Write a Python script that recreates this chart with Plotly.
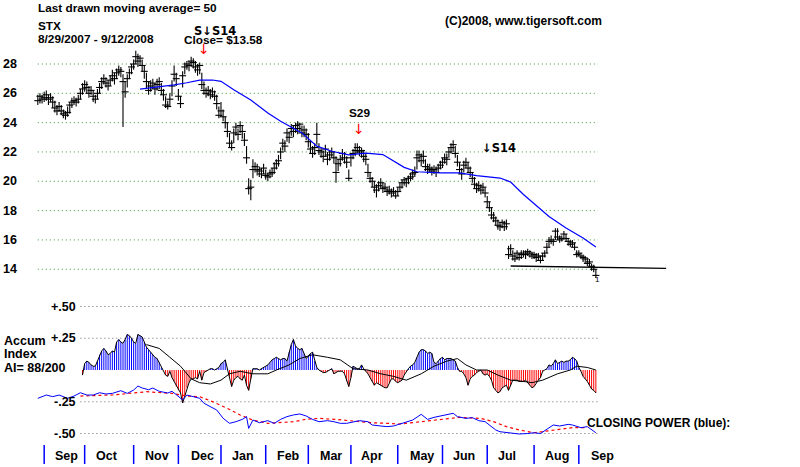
import plotly.graph_objects as go

# ---------------- data ----------------
close = [25.5, 25.8, 25.6, 25.7, 25.9, 25.6, 25.7, 25.4, 25.0, 24.8,
         25.1, 24.8, 24.6, 24.5, 24.7, 25.2, 25.4, 25.5, 25.4, 25.6,
         26.0, 26.3, 26.6, 26.4, 26.0, 26.2, 25.8, 25.6, 26.0, 26.4,
         26.8, 27.0, 26.7, 26.5, 26.9, 27.2, 27.0, 27.4, 27.6, 27.5,
         26.8, 26.1, 27.0, 27.4, 27.8, 28.0, 28.5, 28.2, 28.4, 27.9,
         27.5, 26.8, 26.2, 26.5, 26.7, 26.3, 26.6, 26.8, 26.2, 25.9,
         25.2, 25.1, 25.6, 26.5, 27.3, 27.0, 25.8, 25.3, 27.2, 27.8,
         28.0, 27.9, 28.2, 28.1, 27.8, 27.6, 27.9, 26.6, 26.2, 26.0,
         26.2, 25.9, 26.1, 25.8, 25.3, 24.5, 24.8, 24.4, 24.0, 23.4,
         22.6, 22.3, 23.3, 23.7, 23.2, 23.8, 23.4, 22.8, 21.6, 19.5,
         19.6, 20.8, 21.0, 20.8, 20.7, 20.5, 20.9, 20.4, 20.3, 20.5,
         20.6, 20.9, 21.2, 21.4, 22.0, 22.6, 22.4, 23.3, 23.0, 23.6,
         23.4, 23.8, 23.6, 23.9, 23.3, 23.5, 23.2, 22.7, 22.2, 21.9,
         22.3, 23.2, 22.1, 22.0, 21.7, 22.2, 21.5, 21.8, 22.0, 21.6,
         20.6, 21.2, 21.5, 21.9, 21.6, 21.3, 20.2, 21.6, 21.9, 22.1,
         22.3, 22.0, 22.1, 21.7, 21.5, 20.6, 20.2, 20.0, 19.6, 19.4,
         19.7, 19.9, 19.5, 19.6, 19.3, 19.4, 19.2, 19.3, 19.0, 19.3,
         19.6, 19.9, 20.1, 19.9, 20.2, 20.3, 20.5, 20.6, 21.6, 21.8,
         21.4, 21.7, 21.0, 20.8, 20.9, 20.7, 20.8, 20.6, 20.9, 21.1,
         21.3, 21.6, 21.5, 22.0, 22.3, 22.5, 21.9, 21.3, 20.8, 20.5,
         21.1, 21.3, 20.9, 20.6, 20.2, 19.8, 19.5, 19.7, 19.4, 19.6,
         19.2, 18.6, 18.2, 17.7, 17.5, 17.3, 17.0, 16.9, 17.2, 16.9,
         17.1, 15.0, 15.4, 14.9, 14.7, 15.1, 14.8, 15.0, 15.1, 15.0,
         15.2, 15.1, 14.9, 15.0, 14.8, 14.9, 14.6, 14.9, 15.1, 15.5,
         15.9, 16.0, 15.9, 16.6, 16.2, 16.0, 16.1, 16.4, 16.1, 15.9,
         15.7, 15.8, 15.5, 15.0, 15.1, 14.9, 14.8, 14.7, 14.4, 14.5,
         14.2, 14.0, 13.58]

high = [25.9, 26.0, 25.9, 26.1, 26.2, 25.9, 26.0, 25.8, 25.5, 25.2,
        25.4, 25.2, 24.9, 24.8, 25.1, 25.4, 25.7, 25.8, 25.7, 25.9,
        26.3, 26.7, 26.9, 26.8, 26.5, 26.5, 26.2, 25.9, 26.3, 26.7,
        27.1, 27.3, 27.1, 26.9, 27.2, 27.6, 27.4, 27.7, 27.9, 27.8,
        27.3, 26.8, 27.3, 27.7, 28.0, 28.3, 28.9, 28.7, 28.6, 28.3,
        27.9, 27.4, 26.8, 26.9, 27.0, 26.7, 27.0, 27.1, 26.7, 26.3,
        25.8, 25.5, 26.0, 26.9, 27.9, 27.4, 26.3, 25.8, 27.5, 28.1,
        28.2, 28.2, 28.5, 28.4, 28.2, 28.0, 28.1, 27.4, 26.8, 26.4,
        26.5, 26.3, 26.4, 26.2, 25.9, 25.1, 25.4, 24.9, 24.4, 24.0,
        23.3, 22.8, 23.6, 24.0, 23.6, 24.1, 23.8, 23.3, 22.4, 20.2,
        20.1, 21.5, 21.3, 21.2, 21.0, 20.9, 21.2, 20.8, 20.6, 20.8,
        20.9, 21.3, 21.5, 21.8, 22.3, 22.9, 22.8, 23.6, 23.4, 23.9,
        23.8, 24.0, 24.1, 24.0, 23.8, 23.8, 23.6, 23.3, 22.8, 22.4,
        22.6, 24.0, 22.6, 22.3, 22.1, 22.5, 22.0, 22.1, 22.3, 22.0,
        21.7, 21.5, 21.8, 22.2, 22.0, 21.7, 20.8, 21.9, 22.2, 22.6,
        22.6, 22.4, 22.3, 22.1, 21.9, 21.2, 20.6, 20.3, 20.0, 19.8,
        20.0, 20.2, 19.9, 19.9, 19.6, 19.7, 19.5, 19.6, 19.4, 19.6,
        19.9, 20.1, 20.3, 20.2, 20.4, 20.6, 20.8, 21.0, 22.1, 22.1,
        21.9, 22.1, 21.5, 21.2, 21.2, 21.0, 21.1, 21.0, 21.2, 21.4,
        21.6, 21.9, 21.9, 22.3, 22.6, 22.8, 22.4, 21.8, 21.3, 20.9,
        21.4, 21.6, 21.3, 21.0, 20.6, 20.3, 19.9, 20.0, 19.8, 19.9,
        19.6, 19.0, 18.6, 18.2, 17.9, 17.6, 17.4, 17.2, 17.4, 17.3,
        17.4, 15.6, 15.7, 15.3, 15.1, 15.3, 15.1, 15.3, 15.3, 15.3,
        15.4, 15.3, 15.2, 15.2, 15.1, 15.1, 14.9, 15.1, 15.3, 15.8,
        16.2, 16.3, 16.1, 16.8, 16.8, 16.3, 16.3, 16.6, 16.4, 16.1,
        16.0, 16.0, 15.8, 15.3, 15.3, 15.1, 15.0, 14.9, 14.8, 14.7,
        14.4, 14.3, 14.0]

low = [25.2, 25.3, 25.3, 25.4, 25.5, 25.2, 25.4, 25.0, 24.7, 24.5,
       24.8, 24.5, 24.3, 24.2, 24.4, 24.6, 25.0, 25.2, 25.1, 25.3,
       25.6, 25.9, 26.1, 26.0, 25.7, 25.9, 25.4, 25.3, 25.6, 26.0,
       26.3, 26.6, 26.4, 26.2, 26.5, 26.8, 26.6, 27.0, 27.2, 27.1,
       23.7, 25.7, 26.4, 27.0, 27.3, 27.6, 28.0, 27.8, 27.9, 27.5,
       27.0, 26.3, 25.9, 26.1, 26.3, 25.9, 26.2, 26.3, 25.9, 25.5,
       25.0, 24.9, 25.1, 25.8, 26.8, 26.5, 25.5, 25.0, 26.4, 27.3,
       27.6, 27.5, 27.8, 27.7, 27.4, 27.2, 27.3, 26.3, 25.9, 25.7,
       25.8, 25.6, 25.7, 25.5, 24.9, 24.3, 24.4, 24.1, 23.6, 23.0,
       22.3, 22.1, 22.6, 23.1, 22.8, 23.3, 22.9, 22.4, 21.2, 19.1,
       18.7, 20.2, 20.6, 20.4, 20.3, 20.2, 20.5, 20.1, 20.0, 20.2,
       20.3, 20.5, 20.8, 21.0, 21.5, 22.1, 22.0, 22.7, 22.6, 23.1,
       23.0, 23.3, 23.2, 23.4, 23.0, 23.0, 22.8, 22.3, 21.9, 21.6,
       21.8, 22.5, 21.8, 21.6, 21.3, 21.7, 21.1, 21.4, 21.6, 21.2,
       19.9, 20.7, 21.0, 21.4, 21.2, 20.9, 20.0, 21.0, 21.5, 21.7,
       21.9, 21.7, 21.6, 21.3, 21.1, 20.3, 19.9, 19.6, 19.2, 18.9,
       19.3, 19.5, 19.2, 19.3, 19.0, 19.1, 18.9, 19.0, 18.8, 19.0,
       19.3, 19.5, 19.7, 19.6, 19.8, 20.0, 20.1, 20.3, 20.8, 21.3,
       21.0, 21.2, 20.7, 20.5, 20.6, 20.4, 20.5, 20.3, 20.6, 20.8,
       20.9, 21.2, 21.1, 21.6, 21.9, 22.0, 21.6, 21.0, 20.5, 20.1,
       20.6, 20.9, 20.6, 20.3, 19.9, 19.5, 19.2, 19.3, 19.1, 19.2,
       18.9, 18.2, 17.9, 17.4, 17.2, 17.0, 16.7, 16.6, 16.8, 16.6,
       16.7, 14.7, 15.0, 14.6, 14.5, 14.7, 14.6, 14.7, 14.8, 14.7,
       14.9, 14.8, 14.7, 14.7, 14.5, 14.6, 14.4, 14.6, 14.8, 15.1,
       15.5, 15.7, 15.6, 16.0, 16.0, 15.8, 15.9, 16.0, 15.9, 15.6,
       15.5, 15.5, 15.3, 14.8, 14.9, 14.7, 14.5, 14.4, 14.2, 14.2,
       13.9, 13.8, 13.4]

# 50-day moving average (bar index, value)
ma50_idx = [48, 55, 64, 70, 76, 82, 86, 92, 100, 104, 108, 114, 120, 124, 131,
            138, 146, 154, 162, 170, 172, 178, 189, 198, 206, 217, 222, 228,
            232, 240, 248, 256, 262]
ma50_val = [26.28, 26.40, 26.57, 26.72, 26.90, 26.91, 26.82, 26.25, 25.55, 25.1,
            24.66, 24.1, 23.6, 23.3, 22.4, 22.05, 21.8, 21.92, 21.82, 21.15,
            20.95, 20.65, 20.57, 20.57, 20.38, 20.22, 19.95, 19.1, 18.6, 17.6,
            16.82, 16.13, 15.52]

# support line (bar index, price)
support_idx = [222, 295]
support_val = [14.22, 14.06]

# Accumulation Index, one value per bar starting at bar 21
ai_start = 21
ai = [-0.04, 0.05, 0.07, 0.06, 0.04, 0.03, 0.03, 0.07, 0.12, 0.15,
      0.17, 0.15, 0.12, 0.13, 0.15, 0.14, 0.22, 0.24, 0.22, 0.21,
      0.24, 0.28, 0.27, 0.25, 0.22, 0.21, 0.28, 0.27, 0.26, 0.22,
      0.18, 0.16, 0.14, 0.12, 0.10, 0.09, 0.06, 0.02, 0.00, -0.04,
      -0.05, -0.01, -0.06, -0.09, -0.13, -0.16, -0.18, -0.26, -0.20, -0.14,
      -0.10, -0.07, -0.07, -0.06, -0.07, -0.01, -0.08, -0.02, -0.01, 0.00,
      0.01, 0.01, 0.00, 0.01, 0.02, 0.05, 0.06, 0.08, 0.01, -0.05,
      -0.13, -0.08, -0.06, -0.05, -0.07, -0.08, -0.04, -0.12, -0.16, -0.07,
      0.01, 0.01, 0.01, 0.00, 0.01, 0.02, 0.03, 0.04, 0.06, 0.08,
      0.09, 0.10, 0.09, 0.08, 0.09, 0.09, 0.07, 0.14, 0.20, 0.24,
      0.19, 0.17, 0.16, 0.17, 0.13, 0.09, 0.11, 0.13, 0.14, 0.07,
      0.02, 0.00, -0.01, -0.02, -0.02, -0.01, 0.00, 0.01, -0.03, -0.02,
      -0.01, -0.01, -0.01, -0.03, -0.09, -0.13, -0.06, 0.03, 0.02, 0.01,
      0.01, 0.04, 0.01, -0.01, -0.03, -0.06, -0.09, -0.12, -0.10, -0.11,
      -0.12, -0.13, -0.14, -0.14, -0.10, -0.07, -0.07, -0.09, -0.10, -0.09,
      -0.08, -0.04, -0.01, 0.01, 0.03, 0.04, 0.06, 0.10, 0.14, 0.16,
      0.16, 0.15, 0.13, 0.14, 0.13, 0.06, 0.05, 0.07, 0.09, 0.10,
      0.08, 0.09, 0.09, 0.09, 0.08, 0.07, 0.02, -0.01, -0.01, -0.03,
      -0.06, -0.12, -0.07, -0.05, -0.04, -0.02, -0.01, 0.00, -0.03, -0.04,
      -0.03, -0.05, -0.08, -0.14, -0.16, -0.18, -0.17, -0.14, -0.13, -0.12,
      -0.16, -0.12, -0.08, -0.08, -0.08, -0.09, -0.09, -0.09, -0.08, -0.10,
      -0.12, -0.14, -0.13, -0.10, -0.08, -0.06, -0.01, 0.00, 0.01, 0.04,
      0.03, 0.05, 0.08, 0.05, 0.06, 0.07, 0.06, 0.07, 0.07, 0.08,
      0.10, 0.09, 0.07, 0.02, -0.01, -0.05, -0.07, -0.09, -0.12, -0.15,
      -0.16, -0.18]

# AI moving average (bar index, value)
ai_ma_idx = [51, 57, 62, 67, 72, 76, 81, 86, 90, 95, 101, 108, 112, 118, 123, 129,
             136, 142, 148, 155, 161, 167, 173, 180, 186, 192, 197, 201, 206, 211,
             216, 222, 228, 232, 237, 244, 250, 253, 258, 262]
ai_ma_val = [0.20, 0.17, 0.10, 0.03, -0.07, -0.10, -0.11, -0.08, -0.03, -0.01,
             -0.03, -0.03, 0.00, 0.04, 0.09, 0.12, 0.10, 0.08, 0.01, 0.00,
             -0.03, -0.05, -0.08, -0.03, 0.03, 0.07, 0.09, 0.04, 0.00, 0.00,
             -0.04, -0.08, -0.09, -0.10, -0.08, -0.03, 0.00, 0.03, 0.02, 0.00]

# Closing Power (blue) and its moving average (red), same panel scale
cp_idx = [0, 4, 7, 10, 14, 17, 20, 23, 26, 29, 32, 35, 39, 42, 45, 47, 49, 52, 54,
          57, 61, 63, 65, 68, 70, 73, 76, 78, 81, 84, 87, 90, 93, 96, 98, 99, 101,
          104, 108, 111, 114, 117, 120, 123, 126, 129, 132, 136, 139, 142, 145,
          148, 151, 155, 157, 161, 164, 167, 170, 173, 176, 180, 183, 186, 189,
          192, 195, 197, 201, 204, 207, 210, 212, 215, 217, 220, 223, 226, 230,
          233, 236, 239, 242, 245, 249, 251, 255, 258, 260, 262]
cp_val = [-0.223, -0.197, -0.21, -0.197, -0.223, -0.205, -0.179, -0.197, -0.197,
          -0.179, -0.189, -0.184, -0.163, -0.184, -0.158, -0.126, -0.142, -0.155,
          -0.142, -0.168, -0.181, -0.168, -0.194, -0.236, -0.197, -0.21, -0.223,
          -0.262, -0.288, -0.315, -0.38, -0.42, -0.407, -0.389, -0.367, -0.46,
          -0.394, -0.415, -0.399, -0.42, -0.389, -0.367, -0.354, -0.346, -0.362,
          -0.389, -0.407, -0.399, -0.407, -0.42, -0.42, -0.407, -0.399, -0.407,
          -0.433, -0.441, -0.446, -0.441, -0.425, -0.407, -0.394, -0.349, -0.389,
          -0.373, -0.362, -0.354, -0.341, -0.367, -0.381, -0.375, -0.399, -0.407,
          -0.433, -0.472, -0.486, -0.491, -0.5, -0.504, -0.5, -0.494, -0.5,
          -0.468, -0.433, -0.441, -0.428, -0.433, -0.454, -0.446, -0.472, -0.494]
cpma_idx = [20, 35, 51, 63, 70, 76, 82, 89, 95, 101, 108, 114, 120, 126, 132, 139,
            145, 151, 157, 164, 170, 180, 189, 198, 208, 214, 220, 226, 233, 239,
            245, 251, 258]
cpma_val = [-0.205, -0.197, -0.171, -0.184, -0.205, -0.21, -0.249, -0.302, -0.354,
            -0.394, -0.42, -0.415, -0.407, -0.388, -0.381, -0.388, -0.399, -0.407,
            -0.415, -0.42, -0.425, -0.407, -0.388, -0.373, -0.381, -0.407, -0.446,
            -0.472, -0.494, -0.478, -0.467, -0.454, -0.454]

month_labels = ["Sep", "Oct", "Nov", "Dec", "Jan", "Feb", "Mar", "Apr", "May",
                "Jun", "Jul", "Aug", "Sep"]
month_label_idx = [13.7, 32.5, 56.0, 77.1, 96.3, 117.9, 137.6, 156.9, 180.4,
                   200.1, 220.3, 243.8, 264.9]
month_tick_idx = [3, 22, 45, 66, 86, 107, 127, 147, 169, 190, 211, 233, 254]

price_ticks = [28, 26, 24, 22, 20, 18, 16, 14]
ai_ticks = [0.5, 0.25, -0.25, -0.5]
ai_tick_text = ["+.50", "+.25", "-.25", "-.50"]

# ---------------- figure ----------------
W, H = 800, 467
FONT = "Liberation Sans, Arial, sans-serif"


def px(x):
    return x / W


def py(y):
    return 1 - y / H


n = len(close)
fig = go.Figure()

# AI histogram as thin vertical stripes
ai_x = list(range(ai_start, ai_start + len(ai)))
for sign, col in ((1, "#0000ff"), (-1, "#ff0000")):
    sx, sy = [], []
    for x, v in zip(ai_x, ai):
        if (v >= 0 and sign > 0) or (v < 0 and sign < 0):
            sx += [x, x, None]
            sy += [0, v, None]
    fig.add_trace(go.Scatter(x=sx, y=sy, yaxis="y2", mode="lines",
                             line=dict(color=col, width=1), hoverinfo="skip"))
fig.add_trace(go.Scatter(x=ai_x, y=ai, yaxis="y2", mode="lines",
                         line=dict(color="black", width=1), hoverinfo="skip"))
fig.add_trace(go.Scatter(x=ai_ma_idx, y=ai_ma_val, yaxis="y2", mode="lines",
                         line=dict(color="black", width=1), hoverinfo="skip"))

# closing power
fig.add_trace(go.Scatter(x=cpma_idx, y=cpma_val, yaxis="y2", mode="lines",
                         line=dict(color="#ff0000", width=1.2, dash="dot"),
                         hoverinfo="skip"))
fig.add_trace(go.Scatter(x=cp_idx, y=cp_val, yaxis="y2", mode="lines",
                         line=dict(color="#0000ff", width=1), hoverinfo="skip"))

# price bars (high-low) + close ticks
bx, by = [], []
for i in range(n):
    bx += [i, i, None]
    by += [low[i], high[i], None]
fig.add_trace(go.Scatter(x=bx, y=by, mode="lines",
                         line=dict(color="black", width=1.1), hoverinfo="skip"))
fig.add_trace(go.Scatter(x=list(range(n)), y=close, mode="markers",
                         marker=dict(symbol="line-ew", size=5,
                                     line=dict(color="black", width=1.1)),
                         hoverinfo="skip"))
# moving average
fig.add_trace(go.Scatter(x=ma50_idx, y=ma50_val, mode="lines",
                         line=dict(color="#0000ff", width=1.2), hoverinfo="skip"))
# support line
fig.add_trace(go.Scatter(x=support_idx, y=support_val, mode="lines",
                         line=dict(color="black", width=1.3), hoverinfo="skip"))

shapes = []
for p in price_ticks:
    shapes.append(dict(type="line", xref="x", yref="y", x0=0, x1=n, y0=p, y1=p,
                       line=dict(color="#3a9d3a", width=1, dash="1px,3px"), layer="below"))
for v in ai_ticks:
    shapes.append(dict(type="line", xref="x", yref="y2", x0=20, x1=n, y0=v, y1=v,
                       line=dict(color="#6f6078", width=1, dash="1px,3px"), layer="below"))
for t in month_tick_idx:
    shapes.append(dict(type="line", xref="x", yref="paper", x0=t, x1=t,
                       y0=py(445), y1=py(464),
                       line=dict(color="#0000ff", width=1.5)))

ann = []


def txt(x, y, s, size=12, color="black", xanchor="left", xref="paper", yref="paper",
        weight="bold", family=FONT):
    ann.append(dict(x=x, y=y, xref=xref, yref=yref, text=s, showarrow=False,
                    xanchor=xanchor, yanchor="middle",
                    font=dict(family=family, size=size, color=color, weight=weight)))


txt(px(36), py(8), "Last drawn moving average= 50", size=11.8)
txt(px(36), py(26), "STX", size=11.8)
txt(px(36), py(39), "8/29/2007 - 9/12/2008", size=11.8)
txt(px(182), py(40), "Close= $13.58", size=11.8)
txt(px(604), py(21), "(C)2008, www.tigersoft.com", size=12, xanchor="right")
txt(px(192), py(31), "S↓S14", size=11.5, family="DejaVu Sans, sans-serif")

# signals
txt(78, 29.05, "↓", size=14, color="#ff0000", xanchor="center", xref="x", yref="y",
    weight="normal", family="DejaVu Sans, sans-serif")
txt(150.8, 24.66, "S29", size=11.8, xanchor="center", xref="x", yref="y")
txt(150.8, 23.57, "↓", size=14, color="#ff0000", xanchor="center", xref="x", yref="y",
    weight="normal", family="DejaVu Sans, sans-serif")
txt(207.6, 22.27, "↓S14", size=11.5, xanchor="left", xref="x", yref="y",
    family="DejaVu Sans, sans-serif")
txt(262.6, 13.3, "1", size=8, xanchor="center", xref="x", yref="y", weight="normal")

for p in price_ticks:
    txt(px(19), p, str(p), size=12.5, xanchor="right", yref="y")
for v, s in zip(ai_ticks, ai_tick_text):
    txt(px(78), v, s, size=12.5, xanchor="right", yref="y2")

txt(px(2), py(341), "Accum", size=12.5)
txt(px(2), py(354), "Index", size=12.5)
txt(px(2), py(368), "AI= 88/200", size=12.5)
txt(px(585), py(423), "CLOSING POWER (blue):", size=12)

for x, s in zip(month_label_idx, month_labels):
    txt(x, py(456), s, size=12.5, xanchor="center", xref="x")

txt(px(12), py(472), "2008", size=12)

x_lo = (0 - 37.8) / 2.13
x_hi = (W - 37.8) / 2.13
p_top = 28 + 64 / 14.66
p_bot = 28 - (H - 64) / 14.66
a_top = 370 / 127
a_bot = -(H - 370) / 127

fig.update_layout(
    width=W, height=H, margin=dict(l=0, r=0, t=0, b=0),
    paper_bgcolor="white", plot_bgcolor="white", showlegend=False,
    xaxis=dict(range=[x_lo, x_hi], visible=False, fixedrange=True),
    yaxis=dict(range=[p_bot, p_top], visible=False, fixedrange=True),
    yaxis2=dict(range=[a_bot, a_top], visible=False, overlaying="y", fixedrange=True),
    shapes=shapes, annotations=ann,
)

fig.write_html("out.html")
